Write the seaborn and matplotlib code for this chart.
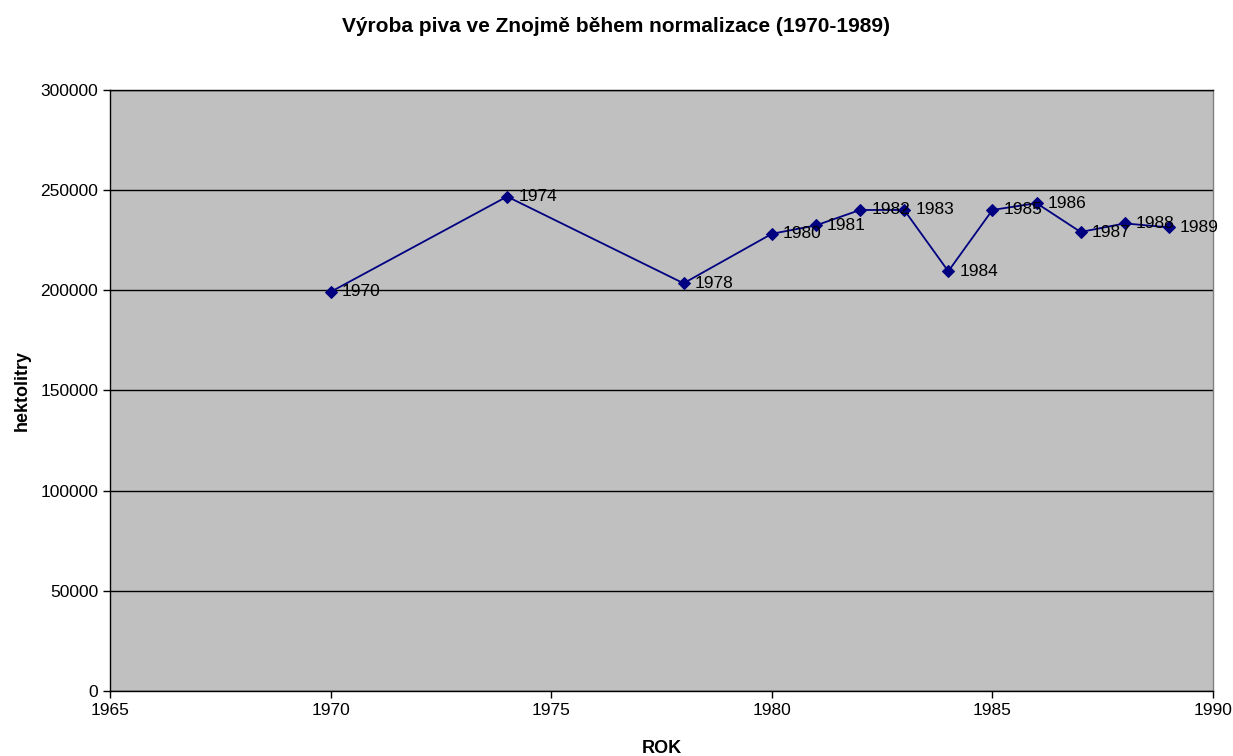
import seaborn as sns
import matplotlib.pyplot as plt
import pandas as pd

# data
years = [1970, 1974, 1978, 1980, 1981, 1982, 1983, 1984, 1985, 1986, 1987, 1988, 1989]
hectoliters = [199200, 246800, 203500, 228200, 232400, 240100, 240100, 209500, 240100, 243500, 229100, 233400, 231400]

df = pd.DataFrame({"ROK": years, "hektolitry": hectoliters})

sns.set_style("white")
plt.rcParams['font.family'] = ['Liberation Sans', 'DejaVu Sans']
plt.rcParams['text.color'] = 'black'
plt.rcParams['axes.labelcolor'] = 'black'

fig = plt.figure(figsize=(12.33, 7.56), dpi=100)
ax = fig.add_axes([0.0892, 0.086, 0.8946, 0.795])
ax.set_facecolor("#C0C0C0")

sns.lineplot(x="ROK", y="hektolitry", data=df, ax=ax, color="#000080",
             marker="D", markersize=6, markeredgecolor="#000080", linewidth=1.3)

# point labels
for x, y in zip(years, hectoliters):
    ax.annotate(str(x), (x, y), xytext=(8, 0), textcoords="offset points",
                fontsize=12.5, va="center", ha="left", color="black")

ax.set_xlim(1965, 1990)
ax.set_ylim(0, 300000)
ax.set_xticks(range(1965, 1991, 5))
ax.set_yticks(range(0, 300001, 50000))
ax.yaxis.grid(True, color="black", linewidth=1)
ax.xaxis.grid(False)
ax.set_axisbelow(True)

ax.tick_params(axis="both", direction="out", length=5, width=1, labelsize=12.5,
               bottom=True, left=True, colors="black")
for s in ["left", "bottom", "top"]:
    ax.spines[s].set_color("black")
    ax.spines[s].set_linewidth(1)
ax.spines["right"].set_color("#808080")
ax.spines["right"].set_linewidth(1)

ax.set_xlabel("ROK", fontsize=13, fontweight="bold", labelpad=16, color="black")
ax.set_ylabel("hektolitry", fontsize=13, fontweight="bold", labelpad=7, color="black")
fig.suptitle("Výroba piva ve Znojmě během normalizace (1970-1989)",
             fontsize=15, fontweight="bold", y=0.977, color="black")

fig.savefig("out.png", dpi=100)
